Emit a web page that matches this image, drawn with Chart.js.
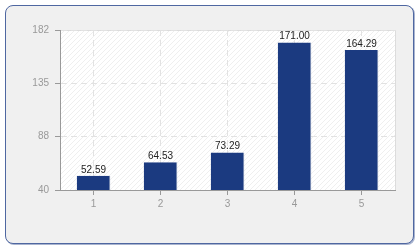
<!DOCTYPE html>
<html>
<head>
<meta charset="utf-8">
<script src="https://cdn.jsdelivr.net/npm/chart.js@4/dist/chart.umd.min.js"></script>
<style>
  body { margin: 0; background: #ffffff; }
  #wrap { position: relative; width: 420px; height: 250px; }
  #frame {
    position: absolute; left: 5px; top: 5px; width: 407px; height: 237px;
    border: 1px solid #4f67a1; border-radius: 8px; background: #f0f0f0;
    box-shadow: 1px 1px 0 #a9b4cf;
  }
  #chart { position: absolute; left: 0; top: 0; }
</style>
</head>
<body>
<div id="wrap">
  <div id="frame"></div>
  <canvas id="chart" width="420" height="250"></canvas>
</div>
<script>
/* =========================
   DATA
========================= */
const categories = ["1", "2", "3", "4", "5"];
const values = [52.59, 64.53, 73.29, 171.00, 164.29];
const yTicks = [40, 87.33, 134.67, 182];
const yTickLabels = ["40", "88", "135", "182"];

const FONT = "'Liberation Sans', Arial, sans-serif";

/* =========================
   PLUGINS
========================= */
// white, lightly hatched plot background
const plotBackground = {
  id: "plotBackground",
  beforeDraw(chart) {
    const { ctx, chartArea: a } = chart;
    const tile = document.createElement("canvas");
    tile.width = 5;
    tile.height = 5;
    const t = tile.getContext("2d");
    t.fillStyle = "#ffffff";
    t.fillRect(0, 0, 5, 5);
    t.strokeStyle = "#efefef";
    t.lineWidth = 1;
    t.beginPath();
    t.moveTo(0, 5);
    t.lineTo(5, 0);
    t.stroke();
    ctx.save();
    ctx.fillStyle = ctx.createPattern(tile, "repeat");
    ctx.fillRect(a.left, a.top, a.right - a.left, a.bottom - a.top);
    // light top / right border
    ctx.strokeStyle = "#dcdcdc";
    ctx.beginPath();
    ctx.moveTo(a.left, a.top + 0.5);
    ctx.lineTo(a.right + 0.5, a.top + 0.5);
    ctx.lineTo(a.right + 0.5, a.bottom);
    ctx.stroke();
    ctx.restore();
  }
};

// value labels above each bar
const valueLabels = {
  id: "valueLabels",
  afterDatasetsDraw(chart) {
    const { ctx } = chart;
    const meta = chart.getDatasetMeta(0);
    ctx.save();
    ctx.font = "10px " + FONT;
    ctx.fillStyle = "#222222";
    ctx.textAlign = "center";
    ctx.textBaseline = "bottom";
    meta.data.forEach((bar, i) => {
      ctx.fillText(values[i].toFixed(2), bar.x, bar.y - 1);
    });
    ctx.restore();
  }
};

/* =========================
   CHART
========================= */
new Chart(document.getElementById("chart"), {
  type: "bar",
  data: {
    labels: categories,
    datasets: [{
      data: values,
      backgroundColor: "#1b3a80",
      borderColor: "#7586ad",
      borderWidth: { top: 0, left: 0, bottom: 0, right: 1 },
      borderSkipped: false,
      barPercentage: 0.5,
      categoryPercentage: 1
    }]
  },
  options: {
    responsive: false,
    animation: false,
    layout: { padding: { left: 0, top: 30, right: 25, bottom: 0 } },
    plugins: {
      legend: { display: false },
      tooltip: { enabled: false }
    },
    scales: {
      x: {
        offset: true,
        afterFit(scale) { scale.height = 60; },
        grid: {
          offset: false,
          color: "#e2e2e2",
          tickColor: "#999999",
          tickBorderDash: [],
          tickLength: 5
        },
        border: { color: "#999999", width: 1, dash: [6, 4] },
        ticks: { color: "#999999", font: { family: FONT, size: 10 }, padding: 3 }
      },
      y: {
        min: 40,
        max: 182,
        afterFit(scale) { scale.width = 60; },
        afterBuildTicks(scale) {
          scale.ticks = yTicks.map(v => ({ value: v }));
        },
        grid: {
          color: "#e2e2e2",
          tickColor: "#999999",
          tickBorderDash: [],
          tickLength: 5
        },
        border: { color: "#999999", width: 1, dash: [6, 4] },
        ticks: {
          color: "#999999",
          font: { family: FONT, size: 10 },
          padding: 6,
          callback(value, index) { return yTickLabels[index]; }
        }
      }
    }
  },
  plugins: [plotBackground, valueLabels]
});
</script>
</body>
</html>
